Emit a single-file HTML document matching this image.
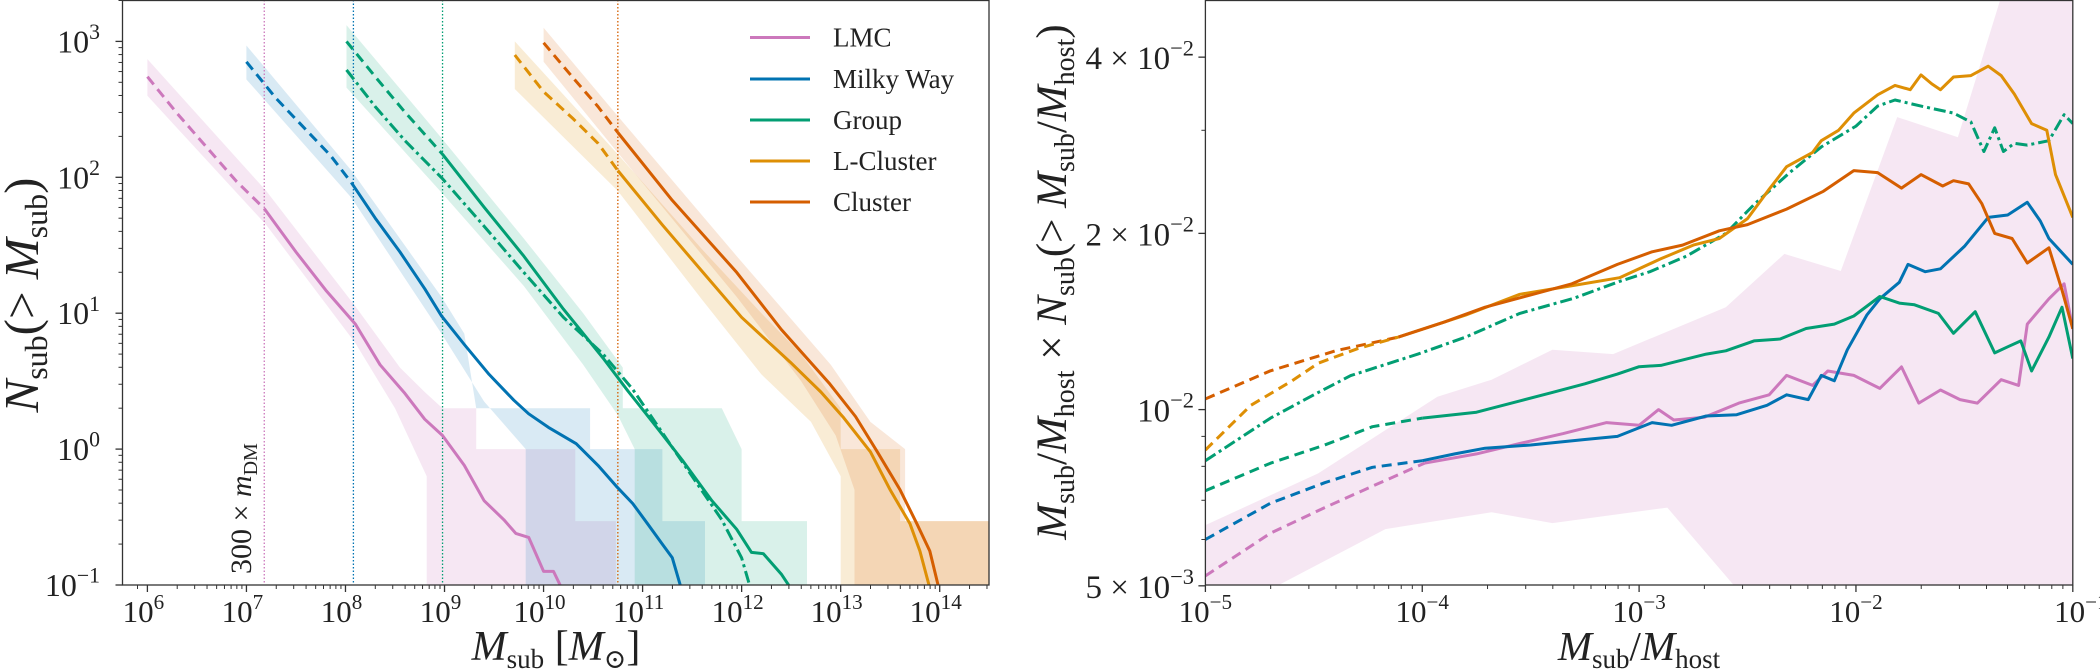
<!DOCTYPE html>
<html><head><meta charset="utf-8">
<style>
html,body{margin:0;padding:0;background:#fff;}
svg{display:block;}
text{font-family:"Liberation Serif","DejaVu Serif",serif;fill:#222;}
</style></head>
<body>
<svg id="chart" width="2100" height="669" viewBox="0 0 2100 669" xmlns="http://www.w3.org/2000/svg">
<defs>
<clipPath id="clipL"><rect x="122.5" y="0" width="866.5" height="585"/></clipPath>
<clipPath id="clipR"><rect x="1205.4" y="0" width="867.4" height="585"/></clipPath>
</defs>
<g id="left"></g>
<g id="right"></g>
</svg>
<script>
// ---------- LEFT PANEL DATA (log10 M, log10 N) ----------
const lmcDashX=[6,6.3,6.6,6.9,7.18];
const lmcDashY=[2.74,2.47,2.22,1.97,1.77];
const lmcSolidX=[7.18,7.5,7.8,8.1,8.35,8.6,8.8,8.98,9.2,9.4,9.6,9.72,9.85,10.0,10.1,10.2];
const lmcSolidY=[1.77,1.45,1.17,0.92,0.62,0.41,0.22,0.10,-0.12,-0.38,-0.52,-0.62,-0.65,-0.9,-0.9,-1.05];
const mwDashX=[7.0,7.3,7.6,7.85,8.06];
const mwDashY=[2.85,2.58,2.35,2.16,1.96];
const mwSolidX=[8.06,8.3,8.55,8.8,8.97,9.2,9.45,9.7,9.85,10.05,10.33,10.55,10.73,10.9,11.05,11.2,11.3,11.4];
const mwSolidY=[1.96,1.7,1.45,1.18,0.98,0.77,0.55,0.36,0.26,0.16,0.04,-0.12,-0.27,-0.4,-0.55,-0.7,-0.8,-1.05];
const grpDashX=[8.01,8.3,8.6,8.98];
const grpDashY=[3.0,2.74,2.48,2.17];
const grpSolidX=[8.98,9.4,9.8,10.2,10.6,10.85,11.1,11.4,11.7,11.95,12.1,12.22,12.4,12.52];
const grpSolidY=[2.17,1.78,1.42,1.03,0.67,0.43,0.2,-0.08,-0.38,-0.59,-0.76,-0.77,-0.92,-1.05];
const grpAltX=[8.01,8.3,8.6,8.98,9.4,9.8,10.2,10.6,10.9,11.2,11.5,11.8,12.0,12.1];
const grpAltY=[2.79,2.52,2.27,1.99,1.64,1.3,0.97,0.70,0.44,0.12,-0.2,-0.52,-0.8,-1.05];
const lclDashX=[9.71,10.0,10.3,10.55,10.75];
const lclDashY=[2.90,2.63,2.43,2.25,2.05];
const lclSolidX=[10.75,11.2,11.61,12.0,12.49,12.8,13.03,13.3,13.5,13.7,13.8,13.91];
const lclSolidY=[2.05,1.65,1.30,0.97,0.64,0.42,0.23,-0.02,-0.30,-0.55,-0.75,-1.05];
const cluDashX=[10.0,10.3,10.55,10.75];
const cluDashY=[2.99,2.73,2.52,2.33];
const cluSolidX=[10.75,11.3,11.95,12.4,12.89,13.15,13.37,13.6,13.77,13.9,14.0];
const cluSolidY=[2.33,1.83,1.30,0.88,0.48,0.24,-0.02,-0.3,-0.55,-0.75,-1.05];
// bands: upper & lower boundaries
const lmcBandUX=[6,7.2,8.1,8.55,8.8,8.98,8.98,9.32,9.32,10.32,10.32,10.73,10.73];
const lmcBandUY=[2.87,1.9,1.05,0.6,0.42,0.30,0.30,0.30,0.0,0.0,-0.53,-0.53,-1.2];
const lmcBandLX=[6,7.2,8.1,8.5,8.82,8.82];
const lmcBandLY=[2.6,1.65,0.78,0.3,-0.2,-1.2];
const mwBandUX=[7,8.06,8.97,9.2,9.32,10.47,10.47,11.2,11.2,11.63,11.63];
const mwBandUY=[2.97,2.05,1.12,0.85,0.30,0.30,0.0,0.0,-0.53,-0.53,-1.2];
const mwBandLX=[7,8.06,8.97,9.4,9.82,9.82];
const mwBandLY=[2.72,1.85,0.85,0.35,0.0,-1.2];
const grpBandUX=[8.01,8.98,9.8,10.4,10.8,10.8,11.8,12.0,12.0,12.66,12.66];
const grpBandUY=[3.12,2.28,1.55,1.0,0.6,0.30,0.30,0.0,-0.53,-0.53,-1.2];
const grpBandLX=[8.01,8.98,9.8,10.4,10.75,10.92,10.92];
const grpBandLY=[2.66,1.88,1.2,0.62,0.25,0.0,-1.2];
const lclBandUX=[9.71,10.75,11.6,12.2,12.6,13.0,13.0,13.6,13.6,14.5];
const lclBandUY=[3.0,2.17,1.47,1.0,0.7,0.3,0.0,0.0,-0.53,-0.53];
const lclBandLX=[9.71,10.75,11.6,12.2,12.7,13.0,13.0,14.5];
const lclBandLY=[2.65,1.9,1.1,0.55,0.2,-0.2,-1.2,-1.2];
const cluBandUX=[10.0,10.75,11.95,12.9,13.3,13.65,13.65,14.5];
const cluBandUY=[3.1,2.45,1.42,0.62,0.2,0.0,-0.53,-0.53];
const cluBandLX=[10.0,10.75,11.95,12.6,12.95,13.14,13.14,14.5];
const cluBandLY=[2.85,2.18,1.12,0.5,0.1,-0.3,-1.2,-1.2];
const massCutsX=[7.18,8.08,8.98,10.75];
const leftXTicks=[6,7,8,9,10,11,12,13,14];
const leftYTicks=[-1,0,1,2,3];
const legendLabels=["LMC","Milky Way","Group","L-Cluster","Cluster"];

// ---------- RIGHT PANEL DATA (log10 ratio, value) ----------
const rCluDashX=[-5,-4.7,-4.4,-4.11];
const rCluDashY=[0.01043,0.01165,0.0126,0.0133];
const rCluX=[-4.11,-3.9,-3.71,-3.5,-3.31,-3.1,-2.94,-2.8,-2.63,-2.5,-2.32,-2.15,-2.01,-1.9,-1.79,-1.7,-1.6,-1.55,-1.48,-1.42,-1.36,-1.28,-1.21,-1.11,-1.05,-1.0];
const rCluY=[0.0133,0.0141,0.01496,0.0157,0.0164,0.0177,0.0186,0.0191,0.0202,0.0207,0.0220,0.0236,0.0256,0.0254,0.0239,0.0252,0.0241,0.0246,0.0243,0.0225,0.02,0.0196,0.0178,0.0189,0.016,0.01374];
const rLclDashX=[-5,-4.79,-4.6,-4.48,-4.3,-4.11];
const rLclDashY=[0.00853,0.01017,0.0112,0.0120,0.0127,0.0133];
const rLclX=[-4.11,-3.8,-3.55,-3.3,-3.09,-2.9,-2.75,-2.63,-2.5,-2.4,-2.32,-2.2,-2.16,-2.08,-2.01,-1.9,-1.82,-1.75,-1.7,-1.65,-1.61,-1.55,-1.47,-1.39,-1.33,-1.27,-1.19,-1.12,-1.08,-1.0];
const rLclY=[0.0133,0.0145,0.01574,0.0163,0.0168,0.0181,0.0191,0.0196,0.0212,0.0238,0.0260,0.0275,0.0288,0.0300,0.0321,0.0345,0.0358,0.0352,0.0373,0.0360,0.0352,0.0370,0.0372,0.0386,0.0372,0.0346,0.0308,0.0300,0.0252,0.0213];
const rGrpAltX=[-5,-4.7,-4.5,-4.33,-4.02,-3.8,-3.55,-3.3,-3.09,-2.95,-2.78,-2.6,-2.47,-2.3,-2.16,-2.0,-1.9,-1.82,-1.7,-1.55,-1.47,-1.41,-1.36,-1.32,-1.27,-1.21,-1.11,-1.04,-1.0];
const rGrpAltY=[0.00818,0.00967,0.0106,0.01143,0.01244,0.0133,0.0146,0.0155,0.01656,0.0172,0.0183,0.0200,0.0224,0.0255,0.0281,0.0305,0.0330,0.0338,0.0330,0.0321,0.0310,0.0276,0.0303,0.0276,0.0285,0.0283,0.0288,0.0319,0.0308];
const rGrpDashX=[-5,-4.7,-4.45,-4.23,-4.0];
const rGrpDashY=[0.00727,0.0081,0.0087,0.00935,0.00967];
const rGrpX=[-4.0,-3.75,-3.55,-3.4,-3.25,-3.1,-3.0,-2.9,-2.69,-2.6,-2.47,-2.35,-2.23,-2.1,-2.01,-1.89,-1.8,-1.73,-1.62,-1.55,-1.45,-1.36,-1.3,-1.24,-1.19,-1.11,-1.05,-1.0];
const rGrpY=[0.00967,0.0099,0.01035,0.0107,0.01107,0.0115,0.01184,0.0119,0.01244,0.0126,0.0131,0.0132,0.01376,0.0140,0.01445,0.0156,0.0152,0.0151,0.0146,0.0135,0.0147,0.0125,0.0128,0.0131,0.01164,0.0133,0.01496,0.01222];
const rMwDashX=[-5,-4.7,-4.45,-4.23,-4.0];
const rMwDashY=[0.0060,0.00692,0.0075,0.00797,0.00818];
const rMwX=[-4.0,-3.85,-3.71,-3.5,-3.25,-3.1,-2.94,-2.85,-2.69,-2.55,-2.41,-2.32,-2.22,-2.16,-2.1,-2.04,-1.95,-1.89,-1.8,-1.76,-1.68,-1.61,-1.5,-1.39,-1.3,-1.21,-1.15,-1.11,-1.0];
const rMwY=[0.00818,0.0084,0.00859,0.0087,0.00889,0.0090,0.0095,0.0094,0.00975,0.0098,0.01017,0.0106,0.0104,0.01144,0.0112,0.01265,0.0145,0.01546,0.0165,0.0177,0.0172,0.0174,0.0190,0.0213,0.0215,0.0226,0.0210,0.0196,0.0177];
const rLmcDashX=[-5,-4.7,-4.45,-4.23,-3.99];
const rLmcDashY=[0.0052,0.00615,0.0068,0.0074,0.0081];
const rLmcX=[-3.99,-3.75,-3.55,-3.35,-3.15,-3.0,-2.91,-2.84,-2.7,-2.54,-2.4,-2.32,-2.2,-2.13,-2.01,-1.89,-1.79,-1.71,-1.61,-1.52,-1.44,-1.33,-1.25,-1.21,-1.11,-1.04,-1.0];
const rLmcY=[0.0081,0.0084,0.00875,0.0091,0.0095,0.0094,0.0100,0.0096,0.0097,0.01026,0.0106,0.01144,0.0110,0.01164,0.01144,0.01087,0.01183,0.01026,0.0108,0.0104,0.01026,0.01125,0.0110,0.0140,0.01546,0.0164,0.01374];
const rBandUX=[-5,-4.48,-3.93,-3.68,-3.40,-3.12,-2.60,-2.33,-2.07,-1.81,-1.53,-1.27,-1.0];
const rBandUY=[0.00635,0.00778,0.01052,0.01125,0.01265,0.01244,0.01496,0.01845,0.01725,0.0316,0.0292,0.06,0.06];
const rBandLX=[-5,-4.76,-4.17,-3.68,-3.40,-2.87,-2.60,-2.52,-1.0];
const rBandLY=[0.0048,0.0048,0.00625,0.00668,0.0064,0.0068,0.0052,0.0048,0.0048];
const rightXTicks=[-5,-4,-3,-2,-1];
const rightYTicks=[0.04,0.02,0.01,0.005];
const rightYTickLabels=[["4 × 10","−2"],["2 × 10","−2"],["","10","−2"],["5 × 10","−3"]];

const colors={lmc:"#cc78bc",mw:"#0173b2",grp:"#029e73",lcl:"#de8f05",clu:"#d55e00"};
const NS="http://www.w3.org/2000/svg";
function mk(tag,attrs,parent){const e=document.createElementNS(NS,tag);for(const k in attrs)e.setAttribute(k,attrs[k]);parent.appendChild(e);return e;}

// axis functions
const lx=v=>147.4+(v-6)*99.04;
const ly=v=>41.4+(3-v)*135.9;
const rx=v=>1205.4+(v+5)*216.85;
const ry=v=>409.6+(-2-Math.log10(v))*585.4;

const L=document.getElementById('left');
const R=document.getElementById('right');
const gL=mk('g',{'clip-path':'url(#clipL)'},L);
const gR=mk('g',{'clip-path':'url(#clipR)'},R);

function band(g,ux,uy,lxs,lys,fx,fy,col,op,name){
  let d='M'+ux.map((x,i)=>fx(x).toFixed(1)+','+fy(uy[i]).toFixed(1)).join('L');
  for(let i=lxs.length-1;i>=0;i--)d+='L'+fx(lxs[i]).toFixed(1)+','+fy(lys[i]).toFixed(1);
  const p=mk('path',{d:d+'Z',fill:col,'fill-opacity':op,stroke:'none'},g);
  
  
}
function line(g,xs,ys,fx,fy,col,dash,name){
  const d='M'+xs.map((x,i)=>fx(x).toFixed(1)+','+fy(ys[i]).toFixed(1)).join('L');
  const a={d:d,fill:'none',stroke:col,'stroke-width':3,'stroke-linejoin':'round'};
  if(dash)a['stroke-dasharray']=dash;
  const p=mk('path',a,g);
  
  
}
function sup(parent,x,y,anchor,base,exp,size,name){
  const t=mk('text',{x:x,y:y,'text-anchor':anchor,'font-size':size},parent);
  
  
  const a=mk('tspan',{},t);a.textContent=base;
  const b=mk('tspan',{dy:-size*0.42,'font-size':size*0.68},t);b.textContent=exp;
  return t;
}

// ---- left bands ----
band(gL,lmcBandUX,lmcBandUY,lmcBandLX,lmcBandLY,lx,ly,colors.lmc,0.18,'lmc-band');
band(gL,mwBandUX,mwBandUY,mwBandLX,mwBandLY,lx,ly,colors.mw,0.15,'milky-way-band');
band(gL,grpBandUX,grpBandUY,grpBandLX,grpBandLY,lx,ly,colors.grp,0.15,'group-band');
band(gL,lclBandUX,lclBandUY,lclBandLX,lclBandLY,lx,ly,colors.lcl,0.17,'l-cluster-band');
band(gL,cluBandUX,cluBandUY,cluBandLX,cluBandLY,lx,ly,colors.clu,0.15,'cluster-band');
// mass cut lines
const cutCols=[colors.lmc,colors.mw,colors.grp,colors.clu];
massCutsX.forEach((m,i)=>{
  const l=mk('line',{x1:lx(m),x2:lx(m),y1:0,y2:585,stroke:cutCols[i],'stroke-width':1.3,'stroke-dasharray':'1.5,2'},gL);
  
  
});
// ---- left lines ----
line(gL,lmcDashX,lmcDashY,lx,ly,colors.lmc,'10,6','lmc-dashed');
line(gL,lmcSolidX,lmcSolidY,lx,ly,colors.lmc,null,'lmc-line');
line(gL,mwDashX,mwDashY,lx,ly,colors.mw,'10,6','milky-way-dashed');
line(gL,mwSolidX,mwSolidY,lx,ly,colors.mw,null,'milky-way-line');
line(gL,grpDashX,grpDashY,lx,ly,colors.grp,'10,6','group-dashed');
line(gL,grpSolidX,grpSolidY,lx,ly,colors.grp,null,'group-line');
line(gL,grpAltX,grpAltY,lx,ly,colors.grp,'12,4,3,4','group-dashdot');
line(gL,lclDashX,lclDashY,lx,ly,colors.lcl,'10,6','l-cluster-dashed');
line(gL,lclSolidX,lclSolidY,lx,ly,colors.lcl,null,'l-cluster-line');
line(gL,cluDashX,cluDashY,lx,ly,colors.clu,'10,6','cluster-dashed');
line(gL,cluSolidX,cluSolidY,lx,ly,colors.clu,null,'cluster-line');

// left frame & ticks
const fL=mk('rect',{x:122.5,y:0.5,width:866.5,height:584.5,fill:'none',stroke:'#333','stroke-width':1.3},L);


leftXTicks.forEach(t=>{
  mk('line',{x1:lx(t),x2:lx(t),y1:585,y2:592,stroke:'#333','stroke-width':1.3},L);
  for(let k=2;k<10;k++){const xx=lx(t+Math.log10(k));if(xx<989)mk('line',{x1:xx,x2:xx,y1:585,y2:589,stroke:'#333','stroke-width':1},L);}
  sup(L,lx(t)-4,622,'middle','10',String(t),31,'x-tick-label');
});
mk('line',{x1:lx(5.9),x2:lx(5.9),y1:585,y2:589,stroke:'#333','stroke-width':1},L);
leftYTicks.forEach(t=>{
  mk('line',{x1:115.5,x2:122.5,y1:ly(t),y2:ly(t),stroke:'#333','stroke-width':1.3},L);
  if(t<3)for(let k=2;k<10;k++){const yy=ly(t+Math.log10(k));mk('line',{x1:118.5,x2:122.5,y1:yy,y2:yy,stroke:'#333','stroke-width':1},L);}
  sup(L,100,ly(t)+11,'end','10',t<0?'−'+(-t):String(t),32,'y-tick-label');
});
mk('line',{x1:118.5,x2:122.5,y1:ly(3.301),y2:ly(3.301),stroke:'#333','stroke-width':1},L);
// left axis titles
const xt=mk('text',{x:556,y:660,'text-anchor':'middle','font-size':42},L);


xt.innerHTML='<tspan font-style="italic">M</tspan><tspan font-size="27" dy="8">sub</tspan><tspan dy="-8"> [</tspan><tspan font-style="italic">M</tspan><tspan font-size="27" dy="8">⊙</tspan><tspan dy="-8">]</tspan>';
const yt=mk('text',{x:0,y:0,'text-anchor':'middle','font-size':49,transform:'translate(38,295) rotate(-90)'},L);


yt.innerHTML='<tspan font-style="italic">N</tspan><tspan font-size="32" dy="9">sub</tspan><tspan dy="-9">(&gt; </tspan><tspan font-style="italic">M</tspan><tspan font-size="32" dy="9">sub</tspan><tspan dy="-9">)</tspan>';
const mt=mk('text',{x:0,y:0,'text-anchor':'start','font-size':30,transform:'translate(251,574) rotate(-90)'},L);


mt.innerHTML='300 × <tspan font-style="italic">m</tspan><tspan font-size="20" dy="6">DM</tspan>';
// legend
const legCols=[colors.lmc,colors.mw,colors.grp,colors.lcl,colors.clu];
const legY=[37.5,79,120,161,202];
legendLabels.forEach((lab,i)=>{
  const g=mk('g',{},L);
  
  
  mk('line',{x1:750,x2:810,y1:legY[i],y2:legY[i],stroke:legCols[i],'stroke-width':3},g);
  const t=mk('text',{x:833,y:legY[i]+9,'font-size':27},g);t.textContent=lab;
});

// ---- right panel ----
band(gR,rBandUX,rBandUY,rBandLX,rBandLY,rx,ry,colors.lmc,0.18,'lmc-band-right');
line(gR,rCluDashX,rCluDashY,rx,ry,colors.clu,'10,6','cluster-dashed-right');
line(gR,rLclDashX,rLclDashY,rx,ry,colors.lcl,'10,6','l-cluster-dashed-right');
line(gR,rGrpDashX,rGrpDashY,rx,ry,colors.grp,'10,6','group-dashed-right');
line(gR,rMwDashX,rMwDashY,rx,ry,colors.mw,'10,6','milky-way-dashed-right');
line(gR,rLmcDashX,rLmcDashY,rx,ry,colors.lmc,'10,6','lmc-dashed-right');
line(gR,rGrpAltX,rGrpAltY,rx,ry,colors.grp,'12,4,3,4','group-dashdot-right');
line(gR,rLmcX,rLmcY,rx,ry,colors.lmc,null,'lmc-line-right');
line(gR,rMwX,rMwY,rx,ry,colors.mw,null,'milky-way-line-right');
line(gR,rGrpX,rGrpY,rx,ry,colors.grp,null,'group-line-right');
line(gR,rLclX,rLclY,rx,ry,colors.lcl,null,'l-cluster-line-right');
line(gR,rCluX,rCluY,rx,ry,colors.clu,null,'cluster-line-right');
const fR=mk('rect',{x:1205.4,y:0.5,width:867.4,height:584.5,fill:'none',stroke:'#333','stroke-width':1.3},R);


rightXTicks.forEach(t=>{
  mk('line',{x1:rx(t),x2:rx(t),y1:585,y2:592,stroke:'#333','stroke-width':1.3},R);
  if(t<-1)for(let k=2;k<10;k++){const xx=rx(t+Math.log10(k));mk('line',{x1:xx,x2:xx,y1:585,y2:589,stroke:'#333','stroke-width':1},R);}
  sup(R,rx(t)+(t==-1?8:0),622,'middle','10','−'+(-t),31,'x-tick-label-right');
});
[0.006,0.007,0.008,0.009,0.03].forEach(v=>mk('line',{x1:1201.4,x2:1205.4,y1:ry(v),y2:ry(v),stroke:'#333','stroke-width':1},R));
rightYTicks.forEach((v,i)=>{
  mk('line',{x1:1198.4,x2:1205.4,y1:ry(v),y2:ry(v),stroke:'#333','stroke-width':1.3},R);
  const lab=rightYTickLabels[i];
  const base=lab.length==3?lab[1]:lab[0];const ex=lab.length==3?lab[2]:lab[1];
  sup(R,1194,ry(v)+12,'end',base,ex,33,'y-tick-label-right');
});
const rxt=mk('text',{x:1639,y:660,'text-anchor':'middle','font-size':41},R);


rxt.innerHTML='<tspan font-style="italic">M</tspan><tspan font-size="27" dy="8">sub</tspan><tspan dy="-8">/</tspan><tspan font-style="italic">M</tspan><tspan font-size="27" dy="8">host</tspan>';
const ryt=mk('text',{x:0,y:0,'text-anchor':'middle','font-size':43,transform:'translate(1066,282) rotate(-90)'},R);


ryt.innerHTML='<tspan font-style="italic">M</tspan><tspan font-size="28" dy="8">sub</tspan><tspan dy="-8">/</tspan><tspan font-style="italic">M</tspan><tspan font-size="28" dy="8">host</tspan><tspan dy="-8"> × </tspan><tspan font-style="italic">N</tspan><tspan font-size="28" dy="8">sub</tspan><tspan dy="-8">(&gt; </tspan><tspan font-style="italic">M</tspan><tspan font-size="28" dy="8">sub</tspan><tspan dy="-8">/</tspan><tspan font-style="italic">M</tspan><tspan font-size="28" dy="8">host</tspan><tspan dy="-8">)</tspan>';
</script>
</body></html>
